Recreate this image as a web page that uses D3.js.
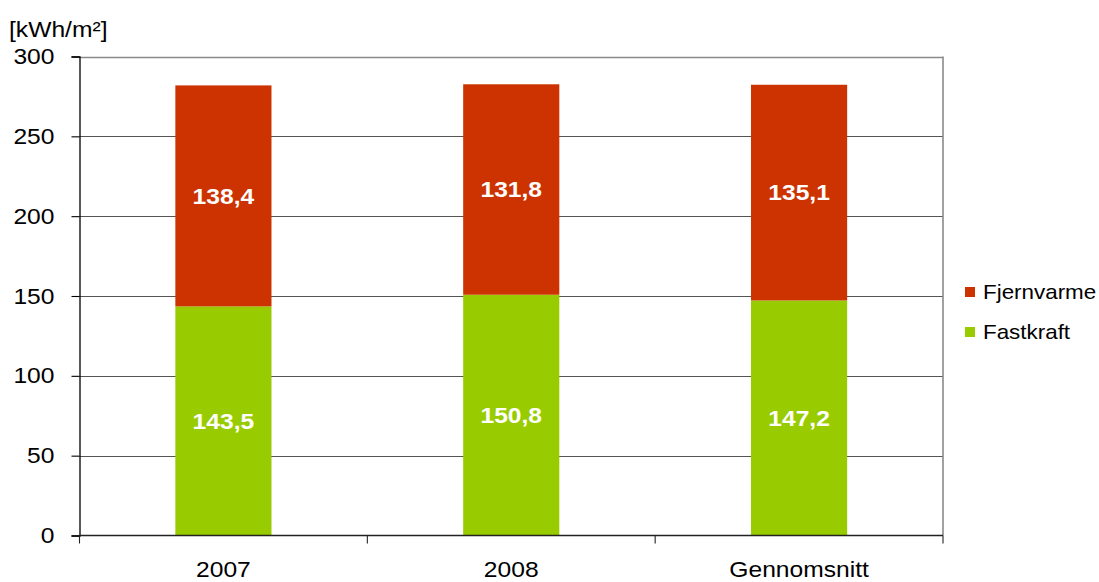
<!DOCTYPE html>
<html>
<head>
<meta charset="utf-8">
<script src="https://cdn.jsdelivr.net/npm/d3@7"></script>
<style>
  html, body { margin: 0; padding: 0; background: #fff; }
  svg { display: block; font-family: "Liberation Sans", Arial, sans-serif; }
</style>
</head>
<body>
<svg id="chart" width="1099" height="582"></svg>
<script>
// Energy use per square metre, by year and average
const categories = ["2007", "2008", "Gennomsnitt"];
const fastkraft = [143.5, 150.8, 147.2];
const fjernvarme = [138.4, 131.8, 135.1];
const seriesNames = ["Fastkraft", "Fjernvarme"];
const seriesColors = ["#99CC00", "#CC3300"];
const yTicks = [0, 50, 100, 150, 200, 250, 300];
const unitLabel = "[kWh/m²]";

const svg = d3.select("#chart");
const plot = { left: 79.5, right: 943, top: 56.5, bottom: 535.5 };
const SX = 1.12; // text is drawn slightly wide

// Place a text element at (px, py), widened horizontally around its anchor
function place(sel, px, py) {
  sel.attr("x", 0).attr("y", 0)
    .attr("transform", (d, i, n) => {
      const tx = typeof px === "function" ? px(d, i, n) : px;
      const ty = typeof py === "function" ? py(d, i, n) : py;
      return `translate(${tx},${ty}) scale(${SX},1)`;
    });
}

const x = d3.scaleBand().domain(categories).range([plot.left, plot.right]).padding(0);
const y = d3.scaleLinear().domain([0, 300]).range([plot.bottom, plot.top]);
const barW = x.bandwidth() * 0.334;

const rows = categories.map((c, i) => ({ cat: c, Fastkraft: fastkraft[i], Fjernvarme: fjernvarme[i] }));
const stacked = d3.stack().keys(seriesNames)(rows);

// Horizontal gridlines
svg.append("g")
  .selectAll("line")
  .data(yTicks.filter(t => t > 0))
  .join("line")
  .attr("x1", plot.left).attr("x2", plot.right)
  .attr("y1", d => Math.round(y(d)) + 0.5).attr("y2", d => Math.round(y(d)) + 0.5)
  .attr("stroke", d => d === 300 ? "#8a8a8a" : "#555")
  .attr("stroke-width", d => d === 300 ? 1.6 : 1.1);

// Right border of plot area
svg.append("line")
  .attr("x1", plot.right).attr("x2", plot.right)
  .attr("y1", plot.top).attr("y2", plot.bottom)
  .attr("stroke", "#8a8a8a").attr("stroke-width", 1.6);

// Stacked bars
const layers = svg.append("g").selectAll("g")
  .data(stacked)
  .join("g")
  .attr("fill", (d, i) => seriesColors[i]);

layers.selectAll("rect")
  .data(d => d)
  .join("rect")
  .attr("x", d => x(d.data.cat) + x.bandwidth() / 2 - barW / 2)
  .attr("width", barW)
  .attr("y", d => y(d[1]))
  .attr("height", d => y(d[0]) - y(d[1]));

// Value labels centred in each segment
layers.selectAll("text")
  .data(d => d.map(v => ({ v, key: d.key })))
  .join("text")
  .attr("dy", "0.35em")
  .attr("text-anchor", "middle")
  .attr("fill", "#fff")
  .attr("font-weight", "bold")
  .attr("font-size", "22px")
  .text(d => d3.format(".1f")(d.v.data[d.key]).replace(".", ","))
  .call(place, d => x(d.v.data.cat) + x.bandwidth() / 2, d => y((d.v[0] + d.v[1]) / 2));

// Y axis
const yAxis = svg.append("g")
  .attr("transform", `translate(${plot.left},0)`)
  .call(d3.axisLeft(y).tickValues(yTicks).tickSize(8));
yAxis.select(".domain").attr("stroke", "#000").attr("stroke-width", 1.3);
yAxis.selectAll(".tick line").attr("stroke", "#000").attr("stroke-width", 1.1);
yAxis.selectAll(".tick text")
  .attr("font-size", "22px")
  .attr("fill", "#000")
  .attr("font-family", "Liberation Sans, Arial, sans-serif")
  .call(place, -25, 0);

// X axis with ticks between categories
const xAxis = svg.append("g").attr("transform", `translate(0,${plot.bottom})`);
xAxis.append("line")
  .attr("x1", plot.left).attr("x2", plot.right)
  .attr("y1", 0).attr("y2", 0)
  .attr("stroke", "#222").attr("stroke-width", 1.6);
const boundaries = categories.map(c => x(c)).concat([plot.right]);
xAxis.selectAll(".bt")
  .data(boundaries)
  .join("line")
  .attr("class", "bt")
  .attr("x1", d => d).attr("x2", d => d)
  .attr("y1", 0).attr("y2", 8)
  .attr("stroke", "#222").attr("stroke-width", 1.1);
xAxis.selectAll("text")
  .data(categories)
  .join("text")
  .attr("text-anchor", "middle")
  .attr("font-size", "22px")
  .attr("fill", "#000")
  .text(d => d)
  .call(place, d => x(d) + x.bandwidth() / 2, 41);

// Unit label
svg.append("text")
  .attr("font-size", "22px")
  .attr("fill", "#000")
  .text(unitLabel)
  .call(place, 9, 37);

// Legend (Fjernvarme listed first)
const legendItems = [
  { name: seriesNames[1], color: seriesColors[1] },
  { name: seriesNames[0], color: seriesColors[0] }
];
const legend = svg.append("g").attr("transform", "translate(965,287)");
const li = legend.selectAll("g")
  .data(legendItems)
  .join("g")
  .attr("transform", (d, i) => `translate(0,${i * 40})`);
li.append("rect")
  .attr("width", 10).attr("height", 10)
  .attr("fill", d => d.color);
li.append("text")
  .attr("dy", "0.35em")
  .attr("font-size", "20px")
  .attr("fill", "#000")
  .text(d => d.name)
  .call(place, 18, 5);
</script>
</body>
</html>
